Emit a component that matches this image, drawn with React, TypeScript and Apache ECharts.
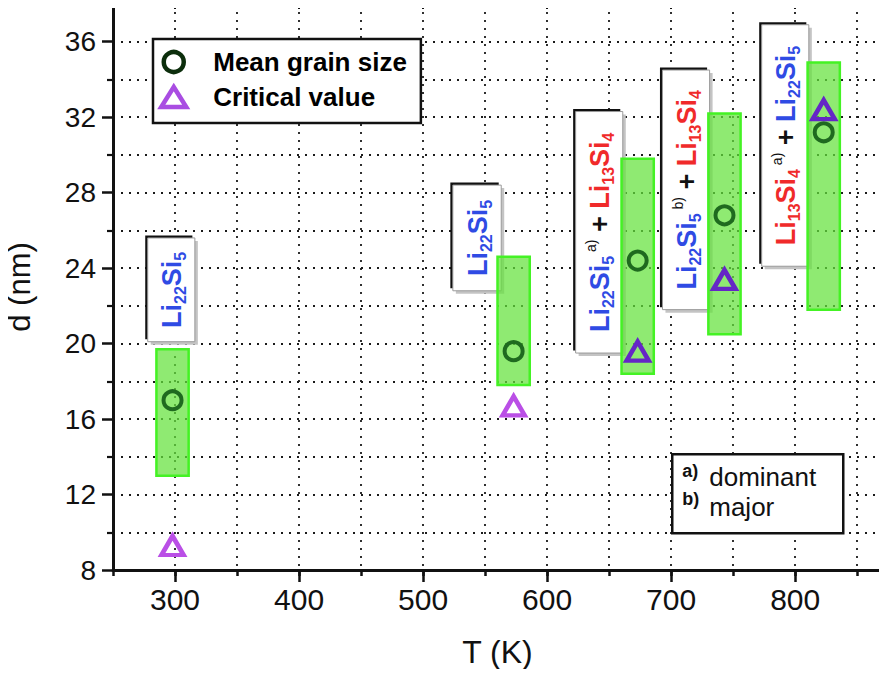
import React, { useEffect, useRef } from 'react';
import * as echarts from 'echarts';

// ---- data ----
const temperatures = [298, 573, 673, 743, 823];
const meanGrainSize = [17.0, 19.6, 24.4, 26.8, 31.2];
const criticalValue = [9.3, 16.7, 19.6, 23.4, 32.4];
const rangeLow = [13.0, 17.8, 18.4, 20.5, 21.8];
const rangeHigh = [19.7, 24.6, 29.8, 32.2, 34.9];

// phase label boxes (data coordinates: T from/to, d top/bottom)
const phaseLabels = [
  '{b|Li}{bs|22}{b|Si}{bs|5}',
  '{b|Li}{bs|22}{b|Si}{bs|5}',
  '{b|Li}{bs|22}{b|Si}{bs|5}{sup| a)}{p| + }{r|Li}{rs|13}{r|Si}{rs|4}',
  '{b|Li}{bs|22}{b|Si}{bs|5}{sup| b)}{p| + }{r|Li}{rs|13}{r|Si}{rs|4}',
  '{r|Li}{rs|13}{r|Si}{rs|4}{sup| a)}{p| + }{b|Li}{bs|22}{b|Si}{bs|5}',
];
const labelTFrom = [278, 524, 623, 693, 773];
const labelTTo = [316, 563, 661, 731, 811];
const labelTop = [25.6, 28.4, 32.3, 34.5, 36.9];
const labelBottom = [20.1, 22.8, 19.5, 21.8, 24.1];

const xMajorTicks = [300, 400, 500, 600, 700, 800];
const seriesNames = ['Mean grain size', 'Critical value'];

const FONT = 'Liberation Sans, Arial, Helvetica, sans-serif';
const BAR_HALF_WIDTH = 13;
const BLUE = '#2f4be4';
const RED = '#f02a2a';

export default function App() {
  const ref = useRef<HTMLDivElement>(null);

  useEffect(() => {
    if (!ref.current) return;
    const chart = echarts.init(ref.current, null, { renderer: 'svg' });

    const rich = {
      b: { fontSize: 27, fontWeight: 'bold', fill: BLUE, fontFamily: FONT, lineHeight: 32 },
      bs: { fontSize: 16, fontWeight: 'bold', fill: BLUE, fontFamily: FONT, lineHeight: 18, verticalAlign: 'bottom' },
      r: { fontSize: 27, fontWeight: 'bold', fill: RED, fontFamily: FONT, lineHeight: 32 },
      rs: { fontSize: 16, fontWeight: 'bold', fill: RED, fontFamily: FONT, lineHeight: 18, verticalAlign: 'bottom' },
      sup: { fontSize: 14, fill: '#111', fontFamily: FONT, lineHeight: 28, verticalAlign: 'top' },
      p: { fontSize: 27, fontWeight: 'bold', fill: '#111', fontFamily: FONT, lineHeight: 32 },
    };

    const gridDots = { color: '#1a1a1a', width: 1.8, type: [2, 6] as number[] };

    const labelData = phaseLabels.map((_, i) => [labelTFrom[i], labelTTo[i], labelTop[i], labelBottom[i]]);
    const barData = temperatures.map((t, i) => [t, rangeLow[i], rangeHigh[i]]);
    const meanData = temperatures.map((t, i) => [t, meanGrainSize[i]]);
    const critData = temperatures.map((t, i) => {
      const inside = criticalValue[i] >= rangeLow[i] && criticalValue[i] <= rangeHigh[i];
      return {
        value: [t, criticalValue[i]],
        itemStyle: { borderColor: inside ? '#6526c6' : '#ba4fe6' },
      };
    });

    const option: any = {
      animation: false,
      backgroundColor: '#fff',
      textStyle: { fontFamily: FONT },
      grid: { left: 113, right: 5, top: 4, bottom: 107, outerBoundsMode: 'none' },
      legend: {
        left: 153,
        top: 39,
        orient: 'vertical',
        selectedMode: false,
        itemWidth: 25,
        itemHeight: 20,
        itemGap: 9,
        padding: [10, 14, 13, 6],
        backgroundColor: '#fff',
        borderColor: '#111',
        borderWidth: 2.5,
        textStyle: { fontSize: 26, fontWeight: 'bold', color: '#000', fontFamily: FONT, lineHeight: 26, padding: [0, 0, 0, 22] },
        data: [
          { name: seriesNames[0], icon: 'circle', itemStyle: { color: 'rgba(0,0,0,0)', borderColor: '#0c2e0c', borderWidth: 4.5 } },
          { name: seriesNames[1], icon: 'triangle', itemStyle: { color: '#fff', borderColor: '#a94de2', borderWidth: 4.5 } },
        ],
      },
      xAxis: [
        {
          type: 'value',
          min: 250,
          max: 870,
          interval: 50,
          name: 'T (K)',
          nameLocation: 'middle',
          nameGap: 66,
          nameTextStyle: { fontSize: 32, color: '#111', fontFamily: FONT },
          axisLine: { show: true, onZero: false, lineStyle: { color: '#111', width: 3 } },
          axisTick: { show: true, length: 6, lineStyle: { color: '#111', width: 2.5 } },
          axisLabel: {
            fontSize: 30,
            color: '#111',
            fontFamily: FONT,
            margin: 14,
            formatter: (v: number) => (v % 100 === 0 ? String(v) : ''),
          },
          splitLine: { show: true, lineStyle: gridDots },
        },
        {
          type: 'value',
          min: 250,
          max: 870,
          position: 'bottom',
          axisLine: { show: false },
          axisTick: { show: true, length: 12, customValues: xMajorTicks, lineStyle: { color: '#111', width: 2.5 } },
          axisLabel: { show: false },
          splitLine: { show: false },
        },
        {
          type: 'value',
          min: 250,
          max: 870,
          position: 'top',
          axisLine: { show: true, onZero: false, lineStyle: { color: '#111', width: 2.5 } },
          axisTick: { show: true, inside: true, length: 5, customValues: xMajorTicks, lineStyle: { color: '#111', width: 2 } },
          axisLabel: { show: false },
          splitLine: { show: false },
        },
      ],
      yAxis: [
        {
          type: 'value',
          min: 8,
          max: 38,
          interval: 4,
          name: 'd (nm)',
          nameLocation: 'middle',
          nameGap: 78,
          nameTextStyle: { fontSize: 31, color: '#111', fontFamily: FONT },
          axisLine: { show: true, onZero: false, lineStyle: { color: '#111', width: 3 } },
          axisTick: { show: true, length: 11, lineStyle: { color: '#111', width: 2.5 } },
          minorTick: { show: true, splitNumber: 2, length: 6, lineStyle: { color: '#111', width: 2.2 } },
          axisLabel: { fontSize: 28, color: '#111', fontFamily: FONT, margin: 17, showMaxLabel: false },
          splitLine: { show: true, lineStyle: gridDots },
          minorSplitLine: { show: true, lineStyle: gridDots },
        },
        {
          type: 'value',
          min: 8,
          max: 38,
          position: 'right',
          axisLine: { show: true, onZero: false, lineStyle: { color: '#111', width: 3 } },
          axisTick: { show: false },
          axisLabel: { show: false },
          splitLine: { show: false },
        },
      ],
      series: [
        {
          type: 'custom',
          name: 'phase labels',
          z: 2,
          silent: true,
          encode: { x: [0, 1], y: [2, 3] },
          data: labelData,
          renderItem: (params: any, api: any) => {
            const i = params.dataIndex;
            const p0 = api.coord([api.value(0), api.value(2)]);
            const p1 = api.coord([api.value(1), api.value(3)]);
            const w = p1[0] - p0[0];
            const h = p1[1] - p0[1];
            return {
              type: 'group',
              children: [
                { type: 'rect', shape: { x: p0[0] + 3, y: p0[1] + 3, width: w, height: h }, style: { fill: '#c4c4c4' } },
                { type: 'rect', shape: { x: p0[0] - 2.5, y: p0[1] - 2.5, width: w, height: h }, style: { fill: '#111' } },
                { type: 'rect', shape: { x: p0[0], y: p0[1], width: w, height: h }, style: { fill: '#fff', stroke: '#9a9a9a', lineWidth: 1 } },
                {
                  type: 'text',
                  x: p0[0] + w / 2 + 1,
                  y: p0[1] + h / 2,
                  rotation: Math.PI / 2,
                  style: { text: phaseLabels[i], rich, align: 'center', verticalAlign: 'middle' },
                },
              ],
            };
          },
        },
        {
          type: 'custom',
          name: 'range',
          z: 3,
          silent: true,
          encode: { x: 0, y: [1, 2] },
          data: barData,
          renderItem: (_params: any, api: any) => {
            const t = api.value(0);
            const p0 = api.coord([t - BAR_HALF_WIDTH, api.value(2)]);
            const p1 = api.coord([t + BAR_HALF_WIDTH, api.value(1)]);
            return {
              type: 'rect',
              shape: { x: p0[0], y: p0[1], width: p1[0] - p0[0], height: p1[1] - p0[1] },
              style: { fill: 'rgba(100, 226, 60, 0.72)', stroke: '#44f224', lineWidth: 2.5 },
            };
          },
        },
        {
          type: 'scatter',
          name: seriesNames[0],
          z: 5,
          symbol: 'circle',
          symbolSize: 18,
          itemStyle: { color: 'rgba(0,0,0,0)', borderColor: '#1f6a1f', borderWidth: 4, opacity: 1 },
          data: meanData,
        },
        {
          type: 'scatter',
          name: seriesNames[1],
          z: 5,
          symbol: 'triangle',
          symbolSize: [22, 19],
          itemStyle: { color: 'rgba(0,0,0,0)', borderColor: '#ba4fe6', borderWidth: 4.5, opacity: 1 },
          data: critData,
        },
      ],
      graphic: [
        {
          type: 'group',
          left: 671,
          top: 453,
          z: 100,
          children: [
            { type: 'rect', z: 100, shape: { x: 0, y: 0, width: 171, height: 79 }, style: { fill: '#fff', stroke: '#111', lineWidth: 2.5 } },
            { type: 'text', z: 101, x: 10, y: 17, style: { text: 'a)', fontSize: 18, fontWeight: 'bold', fill: '#111', fontFamily: FONT, verticalAlign: 'middle' } },
            { type: 'text', z: 101, x: 37, y: 23, style: { text: 'dominant', fontSize: 26, fill: '#111', fontFamily: FONT, verticalAlign: 'middle' } },
            { type: 'text', z: 101, x: 10, y: 45, style: { text: 'b)', fontSize: 18, fontWeight: 'bold', fill: '#111', fontFamily: FONT, verticalAlign: 'middle' } },
            { type: 'text', z: 101, x: 37, y: 53, style: { text: 'major', fontSize: 26, fill: '#111', fontFamily: FONT, verticalAlign: 'middle' } },
          ],
        },
      ],
    };

    chart.setOption(option);
    return () => chart.dispose();
  }, []);

  return <div ref={ref} style={{ width: 887, height: 677, margin: -8 }} />;
}
